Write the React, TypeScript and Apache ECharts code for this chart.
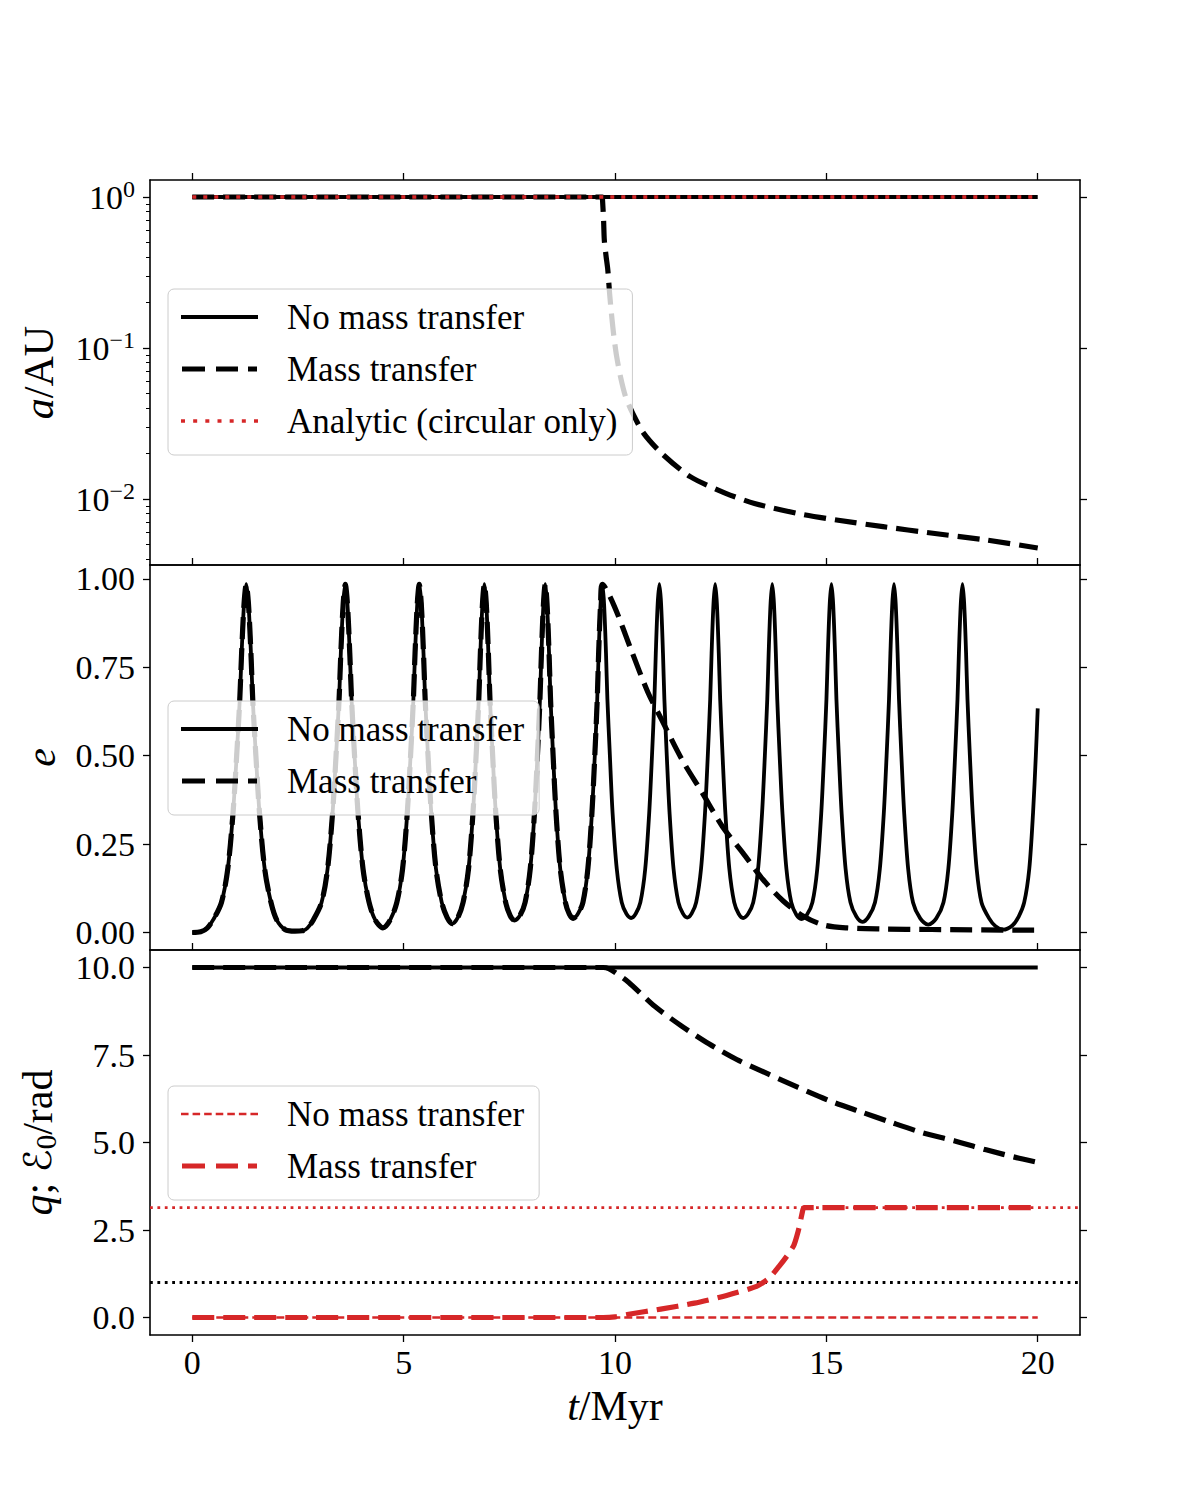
import React, { useEffect, useRef } from "react";
import * as echarts from "echarts";

const SERIF = "'Liberation Serif', 'DejaVu Serif', serif";
const RED = "#d62728";
const BLACK = "#000000";

// ---------- axes ----------
const T_MIN = -1;
const T_MAX = 21;
const X_TICKS = [0, 5, 10, 15, 20];
const A_MIN = 0.003656;
const A_MAX = 1.296;
const A_MAJOR_TICKS = [0.01, 0.1, 1];
const A_MINOR_TICKS = [
  0.004, 0.005, 0.006, 0.007, 0.008, 0.009,
  0.02, 0.03, 0.04, 0.05, 0.06, 0.07, 0.08, 0.09,
  0.2, 0.3, 0.4, 0.5, 0.6, 0.7, 0.8, 0.9,
];
const E_MIN = -0.0495;
const E_MAX = 1.0395;
const E_TICKS = [0, 0.25, 0.5, 0.75, 1.0];
const Q_MIN = -0.5;
const Q_MAX = 10.5;
const Q_TICKS = [0, 2.5, 5, 7.5, 10];

// ---------- panel 1 : a / AU ----------
const aNoMass = [[0, 1], [20, 1]];
const aAnalytic = [[0, 1], [20, 1]];
const aMass = [
  [0, 1], [9.7, 1], [9.705, 0.955], [9.73, 0.705], [9.747, 0.519], [9.79, 0.403],
  [9.83, 0.329], [9.872, 0.23], [9.915, 0.17], [9.974, 0.119], [10.04, 0.0876],
  [10.13, 0.0645], [10.25, 0.0476], [10.42, 0.0369], [10.68, 0.0272], [11.1, 0.0201],
  [11.78, 0.01406], [12.62, 0.01091], [13.3, 0.00935], [14.31, 0.00803],
  [15.24, 0.00726], [16.34, 0.00656], [17.52, 0.00593], [18.79, 0.00535], [20.0, 0.00474],
];

// ---------- panel 2 : e ----------
const eNoMass = [
  [0, 0], [0.2, 0.002], [0.35, 0.012], [0.5, 0.037],
  [0.69, 0.085], [0.84, 0.18], [0.965, 0.34], [1.05, 0.5], [1.124, 0.66], [1.167, 0.79], [1.225, 0.93], [1.277, 0.985],
  [1.329, 0.93], [1.388, 0.79], [1.43, 0.66], [1.505, 0.5], [1.589, 0.34], [1.713, 0.18], [1.862, 0.085],
  [2.0, 0.035], [2.2, 0.008], [2.43, 0.004], [2.6, 0.005], [2.72, 0.012], [2.87, 0.037],
  [3.058, 0.085], [3.201, 0.18], [3.32, 0.34], [3.401, 0.5], [3.473, 0.66], [3.514, 0.79], [3.57, 0.93], [3.62, 0.985],
  [3.67, 0.93], [3.726, 0.79], [3.768, 0.66], [3.839, 0.5], [3.92, 0.34], [4.039, 0.18], [4.183, 0.085],
  [4.33, 0.035], [4.51, 0.013], [4.68, 0.035],
  [4.839, 0.085], [4.975, 0.18], [5.087, 0.34], [5.164, 0.5], [5.231, 0.66], [5.27, 0.79], [5.323, 0.93], [5.37, 0.985],
  [5.417, 0.93], [5.47, 0.79], [5.509, 0.66], [5.577, 0.5], [5.653, 0.34], [5.765, 0.18], [5.901, 0.085],
  [6.03, 0.042], [6.15, 0.025], [6.28, 0.042],
  [6.406, 0.085], [6.535, 0.18], [6.641, 0.34], [6.714, 0.5], [6.778, 0.66], [6.815, 0.79], [6.865, 0.93], [6.91, 0.985],
  [6.955, 0.93], [7.005, 0.79], [7.042, 0.66], [7.106, 0.5], [7.179, 0.34], [7.285, 0.18], [7.414, 0.085],
  [7.52, 0.048], [7.62, 0.034], [7.75, 0.048],
  [7.873, 0.085], [7.995, 0.18], [8.096, 0.34], [8.165, 0.5], [8.225, 0.66], [8.26, 0.79], [8.308, 0.93], [8.35, 0.985],
  [8.392, 0.93], [8.44, 0.79], [8.475, 0.66], [8.536, 0.5], [8.604, 0.34], [8.705, 0.18], [8.827, 0.085],
  [8.92, 0.052], [9.01, 0.04], [9.12, 0.052],
  [9.241, 0.085], [9.358, 0.18], [9.455, 0.34], [9.522, 0.5], [9.58, 0.66], [9.613, 0.79], [9.659, 0.93], [9.7, 0.985],
  [9.741, 0.93], [9.787, 0.79], [9.82, 0.66], [9.879, 0.5], [9.942, 0.34], [10.042, 0.18], [10.159, 0.085],
  [10.27, 0.053], [10.38, 0.041], [10.49, 0.053],
  [10.6, 0.085], [10.715, 0.18], [10.81, 0.34], [10.875, 0.5], [10.932, 0.66], [10.965, 0.79], [11.01, 0.93], [11.05, 0.985],
  [11.09, 0.93], [11.135, 0.79], [11.168, 0.66], [11.225, 0.5], [11.29, 0.34], [11.385, 0.18], [11.5, 0.085],
  [11.605, 0.054], [11.71, 0.042], [11.815, 0.054],
  [11.92, 0.085], [12.035, 0.18], [12.13, 0.34], [12.195, 0.5], [12.252, 0.66], [12.285, 0.79], [12.33, 0.93], [12.37, 0.985],
  [12.41, 0.93], [12.455, 0.79], [12.488, 0.66], [12.545, 0.5], [12.61, 0.34], [12.705, 0.18], [12.82, 0.085],
  [12.925, 0.053], [13.03, 0.041], [13.15, 0.053],
  [13.27, 0.085], [13.385, 0.18], [13.48, 0.34], [13.545, 0.5], [13.602, 0.66], [13.635, 0.79], [13.68, 0.93], [13.72, 0.985],
  [13.76, 0.93], [13.805, 0.79], [13.838, 0.66], [13.895, 0.5], [13.96, 0.34], [14.055, 0.18], [14.17, 0.085],
  [14.29, 0.05], [14.41, 0.038], [14.54, 0.05],
  [14.67, 0.085], [14.785, 0.18], [14.88, 0.34], [14.945, 0.5], [15.002, 0.66], [15.035, 0.79], [15.08, 0.93], [15.12, 0.985],
  [15.16, 0.93], [15.205, 0.79], [15.238, 0.66], [15.295, 0.5], [15.36, 0.34], [15.455, 0.18], [15.57, 0.085],
  [15.71, 0.045], [15.85, 0.03], [16.0, 0.045],
  [16.15, 0.085], [16.265, 0.18], [16.36, 0.34], [16.425, 0.5], [16.482, 0.66], [16.515, 0.79], [16.56, 0.93], [16.6, 0.985],
  [16.64, 0.93], [16.685, 0.79], [16.718, 0.66], [16.775, 0.5], [16.84, 0.34], [16.935, 0.18], [17.05, 0.085],
  [17.22, 0.04], [17.41, 0.022], [17.6, 0.04],
  [17.77, 0.085], [17.885, 0.18], [17.98, 0.34], [18.045, 0.5], [18.102, 0.66], [18.135, 0.79], [18.18, 0.93], [18.22, 0.985],
  [18.26, 0.93], [18.305, 0.79], [18.338, 0.66], [18.395, 0.5], [18.46, 0.34], [18.555, 0.18], [18.67, 0.085],
  [18.85, 0.04], [19.0, 0.018], [19.18, 0.008], [19.4, 0.02], [19.55, 0.045],
  [19.68, 0.085], [19.8, 0.18], [19.89, 0.34], [19.955, 0.5], [20.0, 0.634],
];
const E_SPLIT_T = 9.7; // mass-transfer run follows the same track up to here
const eMassTail = [
  [9.98, 0.924], [10.38, 0.8], [10.78, 0.679], [11.1, 0.603], [11.58, 0.49], [12.06, 0.396],
  [12.54, 0.3], [13.02, 0.226], [13.5, 0.15], [13.98, 0.089], [14.46, 0.046], [14.94, 0.021],
  [15.49, 0.013], [16.29, 0.01], [17.49, 0.0085], [19.89, 0.0065], [20.0, 0.0065],
];

// ---------- panel 3 : q ; E0 ----------
const qNoMass = [[0, 10], [20, 10]];
const qMass = [
  [0, 10], [9.72, 10], [9.85, 9.97], [10.0, 9.86], [10.32, 9.58], [10.94, 8.89], [11.56, 8.34],
  [12.22, 7.82], [12.88, 7.37], [13.62, 6.96], [14.32, 6.58], [15.06, 6.2], [15.78, 5.89],
  [16.52, 5.58], [17.27, 5.28], [18.02, 5.05], [18.78, 4.79], [19.56, 4.55], [20.0, 4.43],
];
const E0NoMass = [[0, 0], [20, 0]];
const E0Mass = [
  [0, 0], [9.72, 0], [10.0, 0.02], [10.36, 0.1], [11.08, 0.24], [11.88, 0.41], [12.64, 0.63],
  [13.35, 0.89], [13.65, 1.13], [13.88, 1.46], [14.07, 1.76], [14.23, 2.06], [14.33, 2.45],
  [14.39, 2.77], [14.43, 3.0], [14.47, 3.1416], [20.0, 3.1416],
];
const H_LINE_X = [-1, 21];
const PI_LEVEL = 3.1416;
const ONE_LEVEL = 1.0;

const LABELS: Record<string, string> = {
  a_nomt: "No mass transfer",
  a_mt: "Mass transfer",
  a_an: "Analytic (circular only)",
  e_nomt: "No mass transfer",
  e_mt: "Mass transfer",
  E_nomt: "No mass transfer",
  E_mt: "Mass transfer",
};

const SOLID_ICON = "path://M0,0H77V3.8H0Z";
const DASH_ICON = "path://M0,0H23V5.2H0ZM34,0H56V5.2H34ZM66,0H75V5.2H66Z";
const THIN_DASH_ICON =
  "path://M0,0H7.5V2.6H0ZM11.5,0H19V2.6H11.5ZM23,0H30.5V2.6H23ZM34.5,0H42V2.6H34.5ZM46,0H53.5V2.6H46ZM57.5,0H65V2.6H57.5ZM69,0H76.5V2.6H69Z";
const DOT_ICON =
  "path://M0,0H4V3.5H0ZM12.17,0H16.17V3.5H12.17ZM24.33,0H28.33V3.5H24.33ZM36.5,0H40.5V3.5H36.5ZM48.67,0H52.67V3.5H48.67ZM60.83,0H64.83V3.5H60.83ZM73,0H77V3.5H73Z";

const DASH = [22, 9];
const THIN_DASH = [8, 4];
const DOT = [4, 7];
const FINE_DOT = [2.8, 4.6];

export default function App() {
  const ref = useRef<HTMLDivElement>(null);

  useEffect(() => {
    if (!ref.current) return;
    const chart = echarts.init(ref.current, null, { renderer: "svg" });

    const tickStyle = { color: BLACK, width: 1.3 };
    const lineAx = { show: true, onZero: false, lineStyle: { color: BLACK, width: 1.6 } };
    const tickLabel = { fontFamily: SERIF, fontSize: 34, color: BLACK };

    const grids = [
      { left: 150, top: 180, width: 930, height: 385 },
      { left: 150, top: 565, width: 930, height: 385 },
      { left: 150, top: 950, width: 930, height: 385 },
    ];

    const xAxes: any[] = [];
    for (let g = 0; g < 3; g++) {
      const isLast = g === 2;
      xAxes.push({
        type: "value",
        gridIndex: g,
        position: "bottom",
        min: T_MIN,
        max: T_MAX,
        axisLine: lineAx,
        splitLine: { show: false },
        axisTick: {
          show: isLast,
          length: 7,
          lineStyle: tickStyle,
          customValues: X_TICKS,
        },
        axisLabel: {
          show: isLast,
          customValues: X_TICKS,
          margin: 10,
          ...tickLabel,
        },
        name: isLast ? "{i|t}/Myr" : "",
        nameLocation: "middle",
        nameGap: 50,
        nameTextStyle: {
          fontFamily: SERIF,
          fontSize: 42,
          color: BLACK,
          rich: { i: { fontFamily: SERIF, fontSize: 42, fontStyle: "italic", color: BLACK } },
        },
      });
      xAxes.push({
        type: "value",
        gridIndex: g,
        position: "top",
        min: T_MIN,
        max: T_MAX,
        axisLine: lineAx,
        splitLine: { show: false },
        axisTick: { show: true, length: 7, lineStyle: tickStyle, customValues: X_TICKS },
        axisLabel: { show: false },
      });
    }

    const nameStyle = {
      fontFamily: SERIF,
      fontSize: 42,
      color: BLACK,
      rich: {
        i: { fontFamily: SERIF, fontSize: 42, fontStyle: "italic", color: BLACK },
        s: { fontFamily: "'DejaVu Serif', 'DejaVu Sans', serif", fontSize: 38, fontStyle: "italic", color: BLACK },
        sub: { fontFamily: SERIF, fontSize: 29, color: BLACK, padding: [16, 0, 0, 0] },
      },
    };

    const yAxes: any[] = [
      {
        type: "log",
        gridIndex: 0,
        position: "left",
        min: A_MIN,
        max: A_MAX,
        logBase: 10,
        axisLine: lineAx,
        splitLine: { show: false },
        minorTick: { show: false },
        axisTick: { show: true, length: 7, lineStyle: tickStyle, customValues: A_MAJOR_TICKS },
        axisLabel: {
          show: true,
          customValues: A_MAJOR_TICKS,
          margin: 15,
          ...tickLabel,
          formatter: (v: number) => {
            const p = Math.round(Math.log10(v));
            const s = p < 0 ? "\u2212" + String(-p) : String(p);
            return "{b|10}{sup|" + s + "}";
          },
          rich: {
            b: { fontFamily: SERIF, fontSize: 34, color: BLACK },
            sup: { fontFamily: SERIF, fontSize: 24, color: BLACK, padding: [0, 0, 16, 0] },
          },
        },
        name: "{i|a}/AU",
        nameLocation: "middle",
        nameGap: 90,
        nameTextStyle: nameStyle,
      },
      {
        type: "log",
        gridIndex: 0,
        position: "left",
        min: A_MIN,
        max: A_MAX,
        logBase: 10,
        axisLine: { show: false, onZero: false },
        splitLine: { show: false },
        axisTick: { show: true, length: 4, lineStyle: { color: BLACK, width: 1 }, customValues: A_MINOR_TICKS },
        axisLabel: { show: false },
      },
      {
        type: "log",
        gridIndex: 0,
        position: "right",
        min: A_MIN,
        max: A_MAX,
        logBase: 10,
        axisLine: lineAx,
        splitLine: { show: false },
        axisTick: { show: true, length: 7, lineStyle: tickStyle, customValues: A_MAJOR_TICKS },
        axisLabel: { show: false },
      },
      {
        type: "value",
        gridIndex: 1,
        position: "left",
        min: E_MIN,
        max: E_MAX,
        axisLine: lineAx,
        splitLine: { show: false },
        axisTick: { show: true, length: 7, lineStyle: tickStyle, customValues: E_TICKS },
        axisLabel: {
          show: true,
          customValues: E_TICKS,
          margin: 15,
          ...tickLabel,
          formatter: (v: number) => v.toFixed(2),
        },
        name: "{i|e}",
        nameLocation: "middle",
        nameGap: 88,
        nameTextStyle: nameStyle,
      },
      {
        type: "value",
        gridIndex: 1,
        position: "right",
        min: E_MIN,
        max: E_MAX,
        axisLine: lineAx,
        splitLine: { show: false },
        axisTick: { show: true, length: 7, lineStyle: tickStyle, customValues: E_TICKS },
        axisLabel: { show: false },
      },
      {
        type: "value",
        gridIndex: 2,
        position: "left",
        min: Q_MIN,
        max: Q_MAX,
        axisLine: lineAx,
        splitLine: { show: false },
        axisTick: { show: true, length: 7, lineStyle: tickStyle, customValues: Q_TICKS },
        axisLabel: {
          show: true,
          customValues: Q_TICKS,
          margin: 15,
          ...tickLabel,
          formatter: (v: number) => v.toFixed(1),
        },
        name: "{i|q}; {s|\u2130}{sub|0}/rad",
        nameLocation: "middle",
        nameGap: 90,
        nameTextStyle: nameStyle,
      },
      {
        type: "value",
        gridIndex: 2,
        position: "right",
        min: Q_MIN,
        max: Q_MAX,
        axisLine: lineAx,
        splitLine: { show: false },
        axisTick: { show: true, length: 7, lineStyle: tickStyle, customValues: Q_TICKS },
        axisLabel: { show: false },
      },
    ];

    const mk = (
      name: string,
      data: number[][],
      xi: number,
      yi: number,
      color: string,
      width: number,
      type: any,
      smooth: number | boolean = false,
      z = 2
    ) => ({
      type: "line",
      name,
      data,
      xAxisIndex: xi,
      yAxisIndex: yi,
      color,
      symbol: "none",
      showSymbol: false,
      smooth,
      z,
      silent: true,
      lineStyle: { color, width, type, cap: "butt", join: "round" },
    });

    const eMass = eNoMass.filter((p) => p[0] <= E_SPLIT_T).concat(eMassTail);
    const hPi = H_LINE_X.map((x) => [x, PI_LEVEL]);
    const hOne = H_LINE_X.map((x) => [x, ONE_LEVEL]);

    const series = [
      mk("a_nomt", aNoMass, 0, 0, BLACK, 3.8, "solid"),
      mk("a_mt", aMass, 0, 0, BLACK, 5.2, DASH, 0.25),
      mk("a_an", aAnalytic, 0, 0, RED, 3.5, DOT),
      mk("e_nomt", eNoMass, 2, 3, BLACK, 3.8, "solid", 0.3),
      mk("e_mt", eMass, 2, 3, BLACK, 5.2, DASH, 0.3),
      mk("q_nomt", qNoMass, 4, 5, BLACK, 3.8, "solid"),
      mk("q_mt", qMass, 4, 5, BLACK, 5.2, DASH, 0.25),
      mk("E_pi", hPi, 4, 5, RED, 2.8, FINE_DOT),
      mk("E_one", hOne, 4, 5, BLACK, 2.8, FINE_DOT),
      mk("E_nomt", E0NoMass, 4, 5, RED, 2.6, THIN_DASH),
      mk("E_mt", E0Mass, 4, 5, RED, 5.2, DASH, 0.2),
    ];

    const legendBase = {
      orient: "vertical",
      left: 168,
      itemWidth: 77,
      itemHeight: 5.2,
      itemGap: 12,
      padding: [8, 15, 14, 13],
      backgroundColor: "rgba(255,255,255,0.8)",
      borderColor: "#cccccc",
      borderWidth: 1,
      borderRadius: 6,
      selectedMode: false,
      symbolKeepAspect: true,
      align: "left",
      itemStyle: { borderWidth: 0 },
      textStyle: {
        fontFamily: SERIF,
        fontSize: 35,
        color: BLACK,
        lineHeight: 40,
        padding: [0, 0, 0, 24],
      },
      formatter: (n: string) => LABELS[n] || n,
    };

    const item = (name: string, icon: string, color: string) => ({
      name,
      icon,
      itemStyle: { color, borderWidth: 0 },
    });

    chart.setOption({
      animation: false,
      backgroundColor: "#ffffff",
      grid: grids,
      xAxis: xAxes,
      yAxis: yAxes,
      series,
      legend: [
        {
          ...legendBase,
          top: 289,
          data: [
            item("a_nomt", SOLID_ICON, BLACK),
            item("a_mt", DASH_ICON, BLACK),
            item("a_an", DOT_ICON, RED),
          ],
        },
        {
          ...legendBase,
          top: 701,
          data: [item("e_nomt", SOLID_ICON, BLACK), item("e_mt", DASH_ICON, BLACK)],
        },
        {
          ...legendBase,
          top: 1086,
          data: [item("E_nomt", THIN_DASH_ICON, RED), item("E_mt", DASH_ICON, RED)],
        },
      ],
    });

    return () => chart.dispose();
  }, []);

  return (
    <div
      ref={ref}
      style={{ position: "absolute", left: 0, top: 0, width: 1200, height: 1500, background: "#fff" }}
    />
  );
}
